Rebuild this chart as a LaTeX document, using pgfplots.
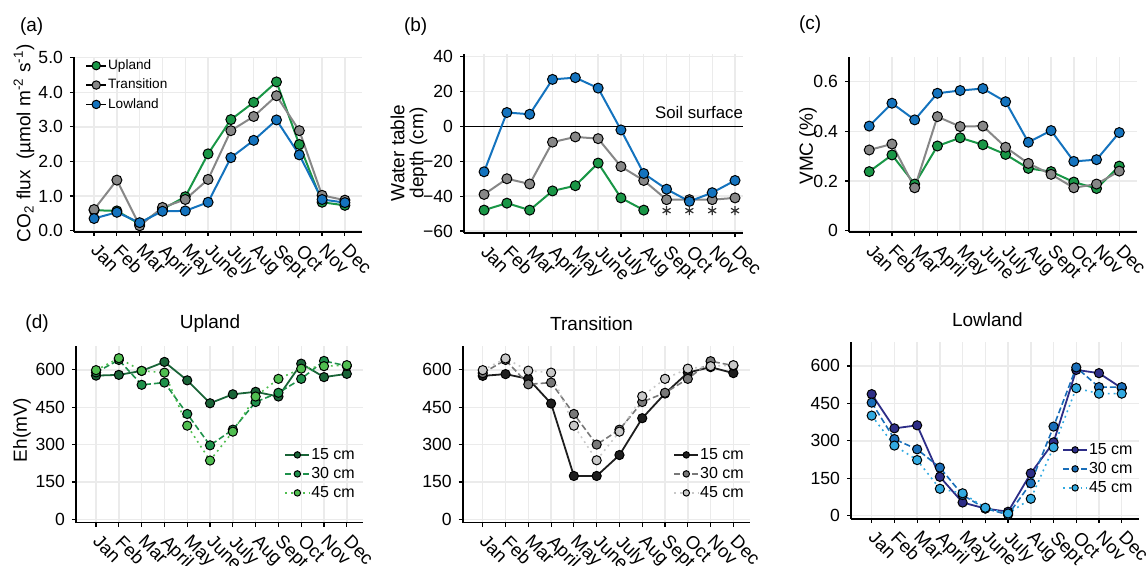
\documentclass[border=0pt]{standalone}
\usepackage{fontspec}
\setmainfont{Liberation Sans}
\usepackage{pgfplots}
\pgfplotsset{compat=1.18}

\definecolor{upl}{RGB}{25,150,70}
\definecolor{tra}{RGB}{135,135,135}
\definecolor{low}{RGB}{20,115,190}
\definecolor{uA}{RGB}{25,100,55}
\definecolor{uB}{RGB}{30,145,75}
\definecolor{uC}{RGB}{80,190,80}
\definecolor{tA}{RGB}{30,30,30}
\definecolor{tB}{RGB}{120,120,120}
\definecolor{tC}{RGB}{200,200,200}
\definecolor{lA}{RGB}{45,45,135}
\definecolor{lB}{RGB}{25,110,185}
\definecolor{lC}{RGB}{50,170,225}
\definecolor{gridc}{RGB}{235,235,235}

\newcommand{\fs}[1]{\fontsize{#1}{#1}\selectfont}

\pgfplotsset{
  panel/.style={
    scale only axis, anchor=south west, clip=false,
    axis x line*=bottom, axis y line*=left,
    axis line style={black, line width=0.8pt},
    grid=major, major grid style={gridc, line width=0.7pt},
    tick align=outside, major tick length=2pt,
    tick style={black, line width=0.6pt},
    xtick={1,...,12},
    xticklabels={Jan,Feb,Mar,April,May,June,July,Aug,Sept,Oct,Nov,Dec},
    ticklabel style={font=\fs{8.8}},
    x tick label style={xshift=2.5pt, yshift=-1.8pt, rotate=-45, anchor=north west,
      inner sep=1pt, font=\fs{9.2}},
    /pgf/number format/assume math mode=true,
    legend cell align=left,
  },
  ser/.style={color=#1, line width=1pt, mark=*, mark size=2.5pt,
    mark options={solid, draw=black, fill=#1, line width=0.5pt}},
  dser/.style={color=#1, line width=0.9pt, mark=*, mark size=2.3pt,
    mark options={solid, draw=black, fill=#1, line width=0.5pt}},
  dlegend/.style={
    legend image code/.code={%
      \draw[##1, mark size=1.6pt, mark repeat=2, mark phase=2]
        plot coordinates {(0pt,0pt) (6pt,0pt) (12pt,0pt)};},
    legend style={at={(rel axis cs:#1)}, anchor=north west, draw=none, fill=none,
      font=\fs{8}, inner sep=0pt, row sep=1pt,
      nodes={inner sep=0.5pt, text height=6pt, text depth=1.5pt}},
  },
}

\begin{document}
\begin{tikzpicture}
\useasboundingbox (0,0) rectangle (574pt,-283pt);

% (a) CO2 flux
\begin{axis}[panel, at={(37pt,-116pt)}, width=144pt, height=87.5pt,
  xmin=0.12, xmax=12.75, ymin=-0.04, ymax=5.02,
  ytick={0,1,2,3,4,5}, yticklabels={0.0,1.0,2.0,3.0,4.0,5.0},
  legend image code/.code={%
    \draw[black, line width=0.9pt] (0pt,0pt) -- (10pt,0pt);
    \draw[#1, draw=none, mark size=2.1pt] plot coordinates {(5pt,0pt)};},
  legend style={at={(rel axis cs:0.038,0.994)}, anchor=north west, draw=none, fill=none,
    font=\fs{6.8}, inner sep=0pt, row sep=2.5pt,
    nodes={inner sep=0.5pt, text height=5pt, text depth=1.2pt}},
]
\addplot[ser=upl] coordinates {(1,0.59)(2,0.57)(3,0.19)(4,0.62)(5,0.98)(6,2.22)(7,3.21)(8,3.71)(9,4.30)(10,2.49)(11,0.82)(12,0.73)};
\addplot[ser=tra] coordinates {(1,0.61)(2,1.46)(3,0.14)(4,0.67)(5,0.90)(6,1.48)(7,2.89)(8,3.30)(9,3.90)(10,2.89)(11,1.02)(12,0.88)};
\addplot[ser=low] coordinates {(1,0.35)(2,0.53)(3,0.23)(4,0.56)(5,0.57)(6,0.82)(7,2.11)(8,2.61)(9,3.20)(10,2.19)(11,0.90)(12,0.81)};
\legend{Upland,Transition,Lowland}
\end{axis}

% (b) water table depth
\begin{axis}[panel, at={(232pt,-116.65pt)}, width=139.5pt, height=89.5pt,
  xmin=0.12, xmax=12.35, ymin=-61.3, ymax=41.4,
  ytick={-60,-40,-20,0,20,40}, yticklabels={−60,−40,−20,0,20,40},
]
\draw[black, line width=0.9pt] ({rel axis cs:0,0} |- {axis cs:1,0}) -- ({rel axis cs:1,0} |- {axis cs:1,0});
\addplot[ser=upl] coordinates {(1,-48)(2,-44)(3,-48)(4,-37)(5,-34)(6,-21)(7,-41)(8,-48)};
\addplot[ser=tra] coordinates {(1,-39)(2,-30)(3,-33)(4,-9)(5,-6)(6,-7)(7,-23)(8,-31)(9,-42)(10,-42)(11,-42)(12,-41)};
\addplot[ser=low] coordinates {(1,-26)(2,8)(3,7)(4,27)(5,28)(6,22)(7,-2)(8,-27)(9,-36)(10,-43)(11,-38)(12,-31)};
\addplot[only marks, mark=asterisk, mark size=2.3pt, black!80, line width=0.6pt] coordinates {(9,-48.3)(10,-48.3)(11,-48.3)(12,-48.3)};
\end{axis}

% (c) VMC
\begin{axis}[panel, at={(424.5pt,-116.15pt)}, width=144pt, height=87.8pt,
  xmin=0.11, xmax=12.78, ymin=-0.006, ymax=0.70,
  ytick={0,0.2,0.4,0.6}, yticklabels={0,0.2,0.4,0.6},
]
\addplot[ser=upl] coordinates {(1,0.238)(2,0.305)(3,0.188)(4,0.341)(5,0.374)(6,0.346)(7,0.307)(8,0.251)(9,0.238)(10,0.196)(11,0.170)(12,0.260)};
\addplot[ser=tra] coordinates {(1,0.325)(2,0.349)(3,0.173)(4,0.459)(5,0.419)(6,0.421)(7,0.336)(8,0.271)(9,0.227)(10,0.173)(11,0.188)(12,0.240)};
\addplot[ser=low] coordinates {(1,0.421)(2,0.513)(3,0.446)(4,0.553)(5,0.564)(6,0.572)(7,0.519)(8,0.356)(9,0.403)(10,0.279)(11,0.286)(12,0.395)};
\end{axis}

% (d) Eh upland
\begin{axis}[panel, at={(38pt,-261.35pt)}, width=143.5pt, height=88.35pt,
  xmin=0.12, xmax=12.71, ymin=-13.7, ymax=696,
  ytick={0,150,300,450,600}, dlegend={0.725,0.434},
]
\addplot[dser=uA] coordinates {(1,577)(2,580)(3,596)(4,632)(5,558)(6,466)(7,502)(8,512)(9,493)(10,625)(11,571)(12,584)};
\addplot[dser=uB, dash pattern=on 3pt off 1.5pt, line width=0.8pt] coordinates {(1,590)(2,640)(3,540)(4,549)(5,423)(6,297)(7,360)(8,471)(9,508)(10,564)(11,636)(12,616)};
\addplot[dser=uC, dotted, line width=0.8pt] coordinates {(1,599)(2,647)(3,596)(4,589)(5,376)(6,236)(7,352)(8,493)(9,564)(10,605)(11,615)(12,619)};
\legend{15 cm,30 cm,45 cm}
\end{axis}

% (d) Eh transition
\begin{axis}[panel, at={(231.35pt,-261.35pt)}, width=143.65pt, height=88.35pt,
  xmin=0.12, xmax=12.73, ymin=-13.7, ymax=696,
  ytick={0,150,300,450,600}, dlegend={0.732,0.434},
]
\addplot[dser=tA] coordinates {(1,576)(2,583)(3,564)(4,465)(5,174)(6,174)(7,258)(8,406)(9,505)(10,589)(11,611)(12,587)};
\addplot[dser=tB, dash pattern=on 3pt off 1.5pt, line width=0.8pt] coordinates {(1,587)(2,640)(3,542)(4,549)(5,423)(6,300)(7,360)(8,471)(9,508)(10,564)(11,635)(12,617)};
\addplot[dser=tC, dotted, line width=0.8pt] coordinates {(1,599)(2,646)(3,597)(4,589)(5,376)(6,237)(7,352)(8,494)(9,564)(10,605)(11,615)(12,619)};
\legend{15 cm,30 cm,45 cm}
\end{axis}

% (d) Eh lowland
\begin{axis}[panel, at={(425.5pt,-259.5pt)}, width=144pt, height=88.65pt,
  xmin=0.09, xmax=12.76, ymin=-13, ymax=697,
  ytick={0,150,300,450,600}, dlegend={0.732,0.44},
]
\addplot[dser=lA] coordinates {(1,487)(2,350)(3,362)(4,156)(5,53)(6,29)(7,16)(8,170)(9,294)(10,584)(11,571)(12,511)};
\addplot[dser=lB, dash pattern=on 3pt off 1.5pt, line width=0.8pt] coordinates {(1,453)(2,307)(3,266)(4,193)(5,83)(6,29)(7,4)(8,130)(9,357)(10,594)(11,515)(12,515)};
\addplot[dser=lC, dotted, line width=0.8pt] coordinates {(1,401)(2,281)(3,223)(4,108)(5,90)(6,32)(7,9)(8,68)(9,274)(10,511)(11,489)(12,489)};
\legend{15 cm,30 cm,45 cm}
\end{axis}

% panel letters, titles and axis labels
\node[anchor=west, font=\fs{9.5}] at (6.5pt,-13.5pt) {(a)};
\node[anchor=west, font=\fs{9.5}] at (198.5pt,-13.5pt) {(b)};
\node[anchor=west, font=\fs{9.5}] at (396pt,-12.5pt) {(c)};
\node[anchor=west, font=\fs{9.5}] at (9.2pt,-161.7pt) {(d)};
\node[font=\fs{9.5}] at (105pt,-161.7pt) {Upland};
\node[font=\fs{9.5}] at (295.8pt,-161.7pt) {Transition};
\node[font=\fs{9.5}] at (493.7pt,-159.7pt) {Lowland};
\node[rotate=90, font=\fs{9.5}] at (12pt,-71.5pt) {CO\textsubscript{2} flux\ \ (µmol m\textsuperscript{-2} s\textsuperscript{-1})};
\node[rotate=90, font=\fs{9.5}, align=center] at (204.5pt,-76.5pt) {\fontsize{9.5}{12.5}\selectfont Water table\\depth (cm)};
\node[rotate=90, font=\fs{9.5}] at (404pt,-73pt) {VMC (\%)};
\node[rotate=90, font=\fs{9.5}] at (11pt,-215pt) {Eh(mV)};
\node[anchor=east, font=\fs{8.4}] at (375pt,-56.5pt) {Soil surface};
\end{tikzpicture}
\end{document}
